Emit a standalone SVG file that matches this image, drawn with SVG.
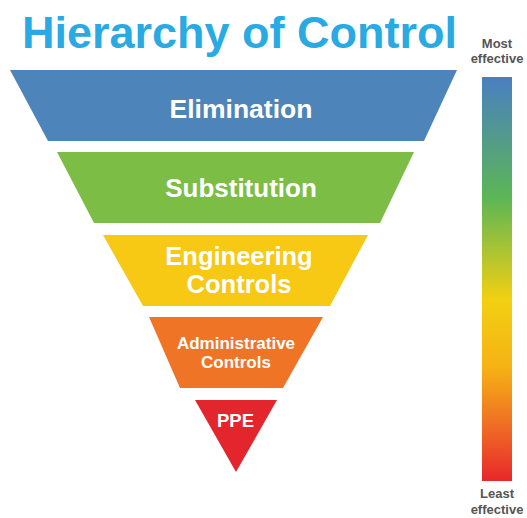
<svg xmlns="http://www.w3.org/2000/svg" width="527" height="518" viewBox="0 0 527 518">
<defs>
<linearGradient id="eff" x1="0" y1="0" x2="0" y2="1">
<stop offset="0" stop-color="#4a7fc1"/>
<stop offset="0.3" stop-color="#5cb655"/>
<stop offset="0.55" stop-color="#f2d012"/>
<stop offset="0.72" stop-color="#f6b215"/>
<stop offset="0.87" stop-color="#ef6a25"/>
<stop offset="1" stop-color="#e8272a"/>
</linearGradient>
</defs>
<style>
.lbl{font-family:"Liberation Sans",Arial,sans-serif;font-weight:bold;fill:#ffffff;text-anchor:middle}
.side{font-family:"Liberation Sans",Arial,sans-serif;font-weight:bold;fill:#555555;font-size:13px;text-anchor:middle}
</style>
<rect width="527" height="518" fill="#ffffff"/>
<text x="22" y="48" font-family="Liberation Sans, Arial, sans-serif" font-weight="bold" font-size="45" fill="#2aaae2">Hierarchy of Control</text>
<g id="elimination">
<polygon points="10,70 457,70 424,141 48,141" fill="#4d85ba"/>
<text class="lbl" x="241" y="118" font-size="26.5">Elimination</text>
</g>
<g id="substitution">
<polygon points="57,152 414,152 380,223 94,223" fill="#7cbd45"/>
<text class="lbl" x="241" y="197" font-size="26">Substitution</text>
</g>
<g id="engineering">
<polygon points="103,235 368,235 330,306 143,306" fill="#f7c814"/>
<text class="lbl" x="239" y="265" font-size="25.5">Engineering</text>
<text class="lbl" x="239" y="293" font-size="25.5">Controls</text>
</g>
<g id="administrative">
<polygon points="149,317 323,317 283,388 180,388" fill="#ef7426"/>
<text class="lbl" x="236" y="349" font-size="17">Administrative</text>
<text class="lbl" x="236" y="368" font-size="17">Controls</text>
</g>
<g id="ppe">
<polygon points="195,400 277,400 236,472" fill="#e3262d"/>
<text class="lbl" x="235.5" y="427" font-size="18.5">PPE</text>
</g>
<g id="scale">
<rect x="482" y="77" width="30" height="404" fill="url(#eff)"/>
<text class="side" x="497" y="48">Most</text>
<text class="side" x="497" y="63">effective</text>
<text class="side" x="497" y="498">Least</text>
<text class="side" x="497" y="514">effective</text>
</g>
<g id="connectors"/>
</svg>
